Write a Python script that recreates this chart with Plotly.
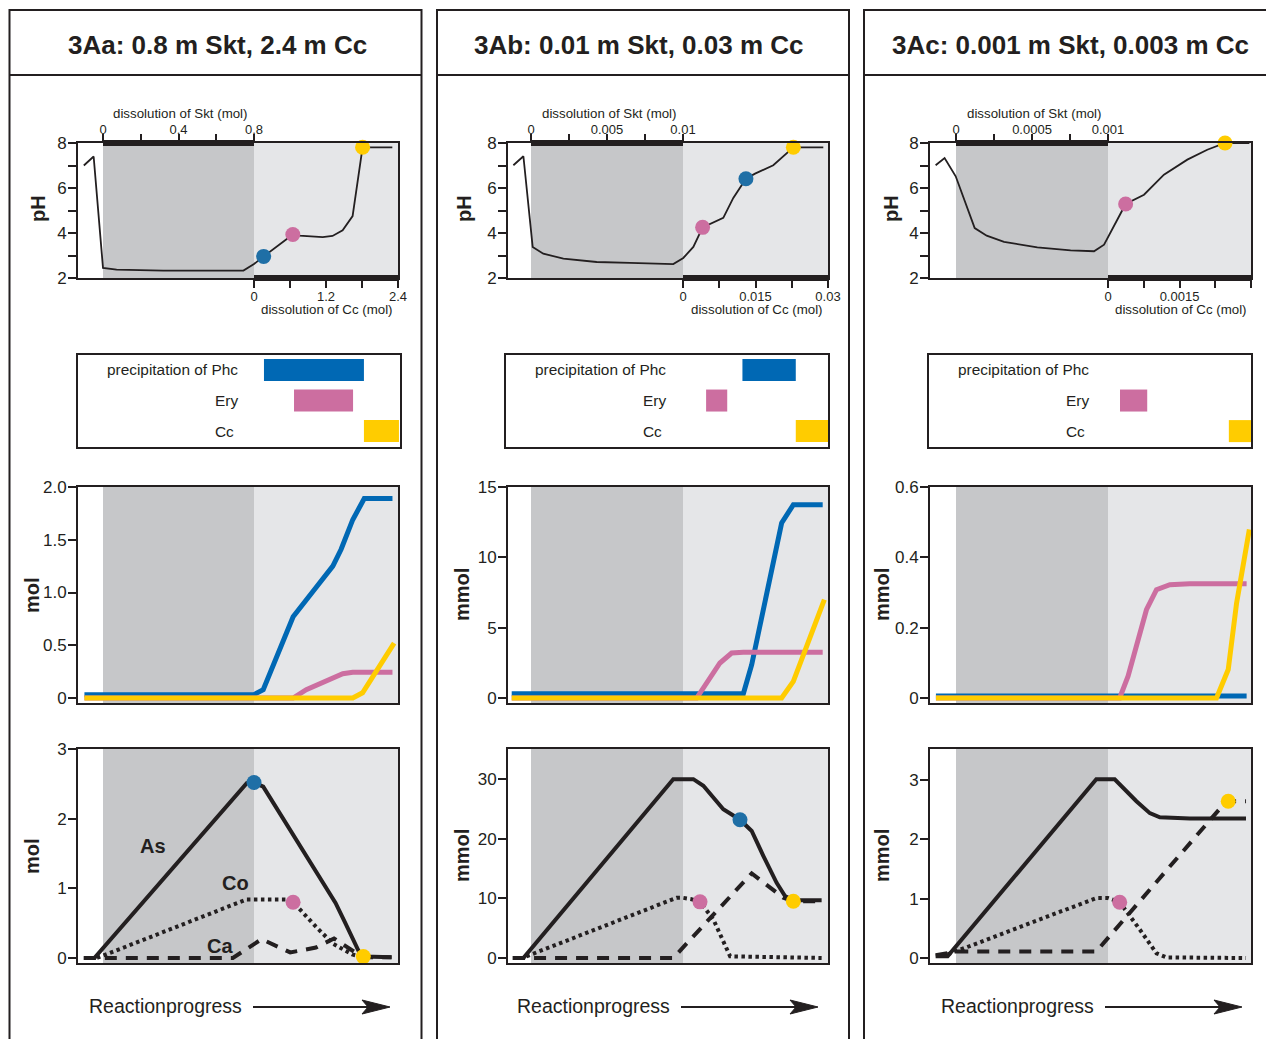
import plotly.graph_objects as go

W, H = 1266, 1039
INK = "#231f20"
FONT = "Liberation Sans, Arial, sans-serif"
BLUE = "#0068b4"
PINK = "#cc6ea0"
YELLOW = "#ffcc00"
MARK_BLUE = "#1f6fa6"
DARK_GRAY = "#c6c7c9"
LIGHT_GRAY = "#e5e6e8"

# ---------------- text / tick labels ----------------
titles = ["3Aa: 0.8 m Skt, 2.4 m Cc", "3Ab: 0.01 m Skt, 0.03 m Cc", "3Ac: 0.001 m Skt, 0.003 m Cc"]
skt_ticktext_a = ["0", "", "0.4", "", "0.8"]
skt_ticktext_b = ["0", "", "0.005", "", "0.01"]
skt_ticktext_c = ["0", "", "0.0005", "", "0.001"]
cc_ticktext_a = ["0", "", "1.2", "", "2.4"]
cc_ticktext_b = ["0", "", "0.015", "", "0.03"]
cc_ticktext_c = ["0", "", "0.0015", "", "0.003"]
precip_labels = ["precipitation of Phc", "Ery", "Cc"]
unit_a, unit_b, unit_c = "mol", "mmol", "mmol"

# x = reaction progress: 0..1 Skt dissolution stage, 1..end Cc dissolution stage
# ---------------- pH curves ----------------
ph_x_a = [-0.127, -0.062, 0.0, 0.09, 0.4, 0.93, 1.0, 1.064, 1.257, 1.30, 1.455, 1.52, 1.587, 1.653, 1.719, 1.916]
ph_y_a = [7.0, 7.4, 2.45, 2.37, 2.33, 2.33, 2.62, 2.96, 3.93, 3.88, 3.82, 3.87, 4.12, 4.75, 7.81, 7.81]
ph_mx_a = [1.064, 1.257, 1.719]
ph_my_a = [2.96, 3.93, 7.81]
ph_mc_a = [MARK_BLUE, PINK, YELLOW]

ph_x_b = [-0.116, -0.05, 0.011, 0.081, 0.213, 0.432, 0.651, 0.936, 1.002, 1.068, 1.129, 1.265, 1.331, 1.414, 1.474, 1.594, 1.726, 1.923]
ph_y_b = [7.01, 7.41, 3.38, 3.08, 2.86, 2.71, 2.67, 2.62, 2.89, 3.38, 4.25, 4.67, 5.56, 6.41, 6.64, 7.01, 7.81, 7.81]
ph_mx_b = [1.129, 1.414, 1.726]
ph_my_b = [4.25, 6.41, 7.81]
ph_mc_b = [PINK, MARK_BLUE, YELLOW]

ph_x_c = [-0.134, -0.075, -0.002, 0.123, 0.202, 0.316, 0.535, 0.754, 0.908, 0.974, 1.061, 1.116, 1.237, 1.368, 1.522, 1.653, 1.77, 1.93]
ph_y_c = [7.01, 7.33, 6.52, 4.22, 3.88, 3.61, 3.36, 3.23, 3.19, 3.48, 4.59, 5.29, 5.70, 6.59, 7.26, 7.70, 8.0, 8.0]
ph_mx_c = [1.116, 1.77]
ph_my_c = [5.29, 8.0]
ph_mc_c = [PINK, YELLOW]

# ---------------- precipitation ranges (start, end) ----------------
prec_start_a = [1.066, 1.265, 1.728]
prec_end_a = [1.728, 1.656, 1.96]
prec_start_b = [1.391, 1.152, 1.742]
prec_end_b = [1.742, 1.291, 1.96]
prec_start_c = [None, 1.079, 1.795]
prec_end_c = [None, 1.258, 1.96]

# ---------------- precipitated amounts ----------------
pa_phc_x = [-0.123, 0.996, 1.061, 1.149, 1.237, 1.259, 1.39, 1.522, 1.577, 1.654, 1.73, 1.917]
pa_phc_y = [0.03, 0.03, 0.08, 0.40, 0.71, 0.77, 1.01, 1.25, 1.41, 1.69, 1.89, 1.89]
pa_ery_x = [-0.123, 1.259, 1.346, 1.522, 1.588, 1.654, 1.917]
pa_ery_y = [0, 0, 0.08, 0.19, 0.23, 0.245, 0.245]
pa_cc_x = [-0.123, 1.654, 1.719, 1.928]
pa_cc_y = [0, 0, 0.05, 0.52]

pb_phc_x = [-0.127, 1.397, 1.452, 1.529, 1.594, 1.649, 1.726, 1.919]
pb_phc_y = [0.3, 0.3, 2.37, 6.28, 9.83, 12.44, 13.74, 13.74]
pb_ery_x = [-0.127, 1.09, 1.243, 1.32, 1.397, 1.919]
pb_ery_y = [0, 0, 2.49, 3.2, 3.25, 3.25]
pb_cc_x = [-0.127, 1.649, 1.726, 1.93]
pb_cc_y = [0, 0, 1.18, 6.99]

pc_phc_x = [-0.132, 1.912]
pc_phc_y = [0.006, 0.006]
pc_ery_x = [-0.132, 1.077, 1.132, 1.253, 1.319, 1.407, 1.538, 1.912]
pc_ery_y = [0, 0, 0.062, 0.251, 0.308, 0.322, 0.325, 0.325]
pc_cc_x = [-0.132, 1.714, 1.791, 1.846, 1.93]
pc_cc_y = [0, 0, 0.081, 0.27, 0.479]

# ---------------- dissolved As / Co / Ca ----------------
aa_as_x = [-0.127, -0.057, 0.952, 1.0, 1.061, 1.237, 1.412, 1.54, 1.605, 1.693, 1.73, 1.912]
aa_as_y = [0, 0, 2.51, 2.52, 2.46, 1.84, 1.22, 0.79, 0.50, 0.10, 0.02, 0.01]
aa_co_x = [-0.04, 0.95, 1.22, 1.26, 1.41, 1.52, 1.65, 1.72]
aa_co_y = [0, 0.84, 0.84, 0.80, 0.45, 0.21, 0.05, 0.01]
aa_ca_x = [-0.127, 0.86, 1.05, 1.24, 1.41, 1.53, 1.72, 1.91]
aa_ca_y = [0, 0, 0.27, 0.08, 0.15, 0.28, 0.01, 0.01]
aa_mx = [1.0, 1.259, 1.724]
aa_my = [2.52, 0.80, 0.02]
aa_mc = [MARK_BLUE, PINK, YELLOW]

ab_as_x = [-0.121, -0.05, 0.936, 1.068, 1.134, 1.265, 1.375, 1.452, 1.529, 1.616, 1.671, 1.726, 1.912]
ab_as_y = [0, 0, 30, 30, 28.9, 24.96, 23.2, 21.3, 17.1, 12.6, 10.4, 9.7, 9.7]
ab_co_x = [-0.03, 0.958, 1.0, 1.05, 1.112, 1.2, 1.31, 1.912]
ab_co_y = [0.28, 10.1, 10.1, 9.9, 9.42, 6.45, 0.28, 0.0]
ab_ca_x = [-0.118, 0.936, 1.452, 1.66, 1.726, 1.912]
ab_ca_y = [0, 0, 14.2, 10.1, 9.5, 9.5]
ab_mx = [1.112, 1.375, 1.726]
ab_my = [9.42, 23.2, 9.53]
ab_mc = [PINK, MARK_BLUE, YELLOW]

ac_as_x = [-0.134, -0.055, 0.923, 1.044, 1.187, 1.275, 1.341, 1.538, 1.908]
ac_as_y = [0.03, 0.03, 3.01, 3.01, 2.64, 2.44, 2.37, 2.35, 2.35]
ac_co_x = [-0.055, 0.923, 1.0, 1.077, 1.209, 1.319, 1.385, 1.908]
ac_co_y = [0.06, 1.01, 1.01, 0.94, 0.48, 0.08, 0.01, 0.0]
ac_ca_x = [-0.134, 0.0, 0.923, 1.67, 1.758, 1.791, 1.908]
ac_ca_y = [0.045, 0.11, 0.11, 2.33, 2.58, 2.64, 2.64]
ac_mx = [1.077, 1.791]
ac_my = [0.94, 2.64]
ac_mc = [PINK, YELLOW]

# axis scales
pre_range_a, pre_ticks_a, pre_text_a = [-0.047, 2.0], [0, 0.5, 1.0, 1.5, 2.0], ["0", "0.5", "1.0", "1.5", "2.0"]
pre_range_b, pre_ticks_b, pre_text_b = [-0.355, 15], [0, 5, 10, 15], ["0", "5", "10", "15"]
pre_range_c, pre_ticks_c, pre_text_c = [-0.0142, 0.6], [0, 0.2, 0.4, 0.6], ["0", "0.2", "0.4", "0.6"]
aq_range_a, aq_ticks_a = [-0.072, 3.0], [0, 1, 2, 3]
aq_range_b, aq_ticks_b = [-0.84, 35.06], [0, 10, 20, 30]
aq_range_c, aq_ticks_c = [-0.084, 3.52], [0, 1, 2, 3]

# ---------------- assemble per column ----------------
columns = [
    dict(title=titles[0], skt=skt_ticktext_a, cc=cc_ticktext_a, unit=unit_a,
         ph=(ph_x_a, ph_y_a, ph_mx_a, ph_my_a, ph_mc_a),
         prec=(prec_start_a, prec_end_a),
         pre=[(pa_phc_x, pa_phc_y, BLUE), (pa_ery_x, pa_ery_y, PINK), (pa_cc_x, pa_cc_y, YELLOW)],
         pre_axis=(pre_range_a, pre_ticks_a, pre_text_a),
         aq=(aa_as_x, aa_as_y, aa_co_x, aa_co_y, aa_ca_x, aa_ca_y, aa_mx, aa_my, aa_mc),
         aq_axis=(aq_range_a, aq_ticks_a),
         geo=dict(L=78, R=398, D0=103, D1=254, LL=78, LR=400, F0=9.5, F1=421.5,
                  phx=38, unitx=32, tx=217, rx=165, a0=253, a1=390)),
    dict(title=titles[1], skt=skt_ticktext_b, cc=cc_ticktext_b, unit=unit_b,
         ph=(ph_x_b, ph_y_b, ph_mx_b, ph_my_b, ph_mc_b),
         prec=(prec_start_b, prec_end_b),
         pre=[(pb_phc_x, pb_phc_y, BLUE), (pb_ery_x, pb_ery_y, PINK), (pb_cc_x, pb_cc_y, YELLOW)],
         pre_axis=(pre_range_b, pre_ticks_b, pre_text_b),
         aq=(ab_as_x, ab_as_y, ab_co_x, ab_co_y, ab_ca_x, ab_ca_y, ab_mx, ab_my, ab_mc),
         aq_axis=(aq_range_b, aq_ticks_b),
         geo=dict(L=508, R=828, D0=531, D1=683, LL=506, LR=828, F0=437, F1=849,
                  phx=464, unitx=462, tx=638, rx=593, a0=681, a1=818)),
    dict(title=titles[2], skt=skt_ticktext_c, cc=cc_ticktext_c, unit=unit_c,
         ph=(ph_x_c, ph_y_c, ph_mx_c, ph_my_c, ph_mc_c),
         prec=(prec_start_c, prec_end_c),
         pre=[(pc_phc_x, pc_phc_y, BLUE), (pc_ery_x, pc_ery_y, PINK), (pc_cc_x, pc_cc_y, YELLOW)],
         pre_axis=(pre_range_c, pre_ticks_c, pre_text_c),
         aq=(ac_as_x, ac_as_y, ac_co_x, ac_co_y, ac_ca_x, ac_ca_y, ac_mx, ac_my, ac_mc),
         aq_axis=(aq_range_c, aq_ticks_c),
         geo=dict(L=930, R=1251, D0=956, D1=1108, LL=929, LR=1251, F0=864, F1=1290,
                  phx=891, unitx=882, tx=1070, rx=1017, a0=1105, a1=1242)),
]

ROWS = {"ph": (143, 278), "leg": (355, 447), "pre": (487, 703), "aq": (749, 963)}


def pxx(x):
    return x / W


def pyy(y):
    return 1 - y / H


def axname(n, k):
    return f"{k}axis" if n == 1 else f"{k}axis{n}"


def ref(n, k):
    return k if n == 1 else f"{k}{n}"


fig = go.Figure()
layout = dict(template="none", width=W, height=H, autosize=False,
              margin=dict(l=0, r=0, t=0, b=0, pad=0, autoexpand=False),
              paper_bgcolor="white", plot_bgcolor="white", showlegend=False,
              font=dict(family=FONT, color=INK))
shapes, annos = [], []

base_axis = dict(showline=True, mirror=True, linecolor=INK, linewidth=2, showgrid=False,
                 zeroline=False, fixedrange=True, automargin=False)
y_ticks = dict(ticks="outside", ticklen=8, tickwidth=2, tickcolor=INK, tickfont=dict(size=17),
               ticklabelstandoff=-2)


def center_text(text, x, y, size, angle=0, **kw):
    d = dict(text=text, xref="paper", yref="paper", x=pxx(x), y=pyy(y), showarrow=False,
             font=dict(size=size), xanchor="center", yanchor="middle", textangle=angle)
    d.update(kw)
    return d


for c, col in enumerate(columns):
    g = col["geo"]
    span = g["D1"] - g["D0"]
    xr = [(g["L"] - g["D0"]) / span, (g["R"] - g["D0"]) / span]
    xl = [(g["LL"] - g["D0"]) / span, (g["LR"] - g["D0"]) / span]
    n_ph, n_leg, n_pre, n_aq = c * 4 + 1, c * 4 + 2, c * 4 + 3, c * 4 + 4
    n_top = 13 + c

    def ydom(key):
        a, b = ROWS[key]
        return [pyy(b), pyy(a)]

    # --- pH panel ---
    cc_vals = [1 + k * (xr[1] - 1) / 4 for k in range(5)]
    layout[axname(n_ph, "x")] = dict(base_axis, domain=[pxx(g["L"]), pxx(g["R"])], range=xr,
                                     anchor=ref(n_ph, "y"), ticks="outside", ticklen=8, tickwidth=2,
                                     tickcolor=INK, tickvals=cc_vals, ticktext=col["cc"],
                                     tickfont=dict(size=13), ticklabelstandoff=-3)
    layout[axname(n_top, "x")] = dict(overlaying=ref(n_ph, "x"), side="top", anchor=ref(n_ph, "y"),
                                      range=xr, showline=False, showgrid=False, zeroline=False,
                                      ticks="outside", ticklen=8, tickwidth=2, tickcolor=INK,
                                      tickvals=[0, 0.25, 0.5, 0.75, 1], ticktext=col["skt"],
                                      tickfont=dict(size=13), fixedrange=True, automargin=False,
                                      ticklabelstandoff=-5)
    layout[axname(n_ph, "y")] = dict(base_axis, **y_ticks, domain=ydom("ph"), range=[2, 8],
                                     anchor=ref(n_ph, "x"), tickvals=[2, 3, 4, 5, 6, 7, 8],
                                     ticktext=["2", "", "4", "", "6", "", "8"])
    px_, py_, mx, my, mc = col["ph"]
    fig.add_trace(go.Scatter(x=[None], y=[None], xaxis=ref(n_top, "x"), yaxis=ref(n_ph, "y"),
                             hoverinfo="skip"))
    fig.add_trace(go.Scatter(x=px_, y=py_, mode="lines", line=dict(color=INK, width=1.8),
                             xaxis=ref(n_ph, "x"), yaxis=ref(n_ph, "y")))
    fig.add_trace(go.Scatter(x=mx, y=my, mode="markers", marker=dict(size=15, color=mc, line=dict(width=0)),
                             cliponaxis=False, xaxis=ref(n_ph, "x"), yaxis=ref(n_ph, "y")))
    shapes.append(dict(type="line", xref=ref(n_ph, "x"), yref=ref(n_ph, "y") + " domain",
                       x0=0, x1=1, y0=1, y1=1, line=dict(color=INK, width=6)))
    shapes.append(dict(type="line", xref=ref(n_ph, "x"), yref=ref(n_ph, "y") + " domain",
                       x0=1, x1=xr[1], y0=0, y1=0, line=dict(color=INK, width=6)))
    annos.append(center_text("dissolution of Skt (mol)", (g["D0"] + g["D1"]) / 2 + 2, 113, 13.3))
    annos.append(center_text("dissolution of Cc (mol)", (g["D1"] + g["R"]) / 2 + 1, 309, 13.3))
    annos.append(center_text("<b>pH</b>", g["phx"], 209, 20, angle=-90))

    # --- precipitation range box ---
    layout[axname(n_leg, "x")] = dict(base_axis, domain=[pxx(g["LL"]), pxx(g["LR"])], range=xl,
                                      anchor=ref(n_leg, "y"), ticks="", showticklabels=False)
    layout[axname(n_leg, "y")] = dict(base_axis, domain=ydom("leg"), range=[2.52, -0.49],
                                      anchor=ref(n_leg, "x"), ticks="", showticklabels=False)
    starts, ends = col["prec"]
    lengths = [None if s is None else e - s for s, e in zip(starts, ends)]
    fig.add_trace(go.Bar(orientation="h", y=[0, 1, 2], x=lengths, base=starts, width=0.72,
                         marker=dict(color=[BLUE, PINK, YELLOW], line=dict(width=0)),
                         xaxis=ref(n_leg, "x"), yaxis=ref(n_leg, "y")))
    annos.append(dict(text=precip_labels[0], xref="paper", yref=ref(n_leg, "y"),
                      x=pxx(g["LL"] + 162), y=0, xanchor="right", yanchor="middle", showarrow=False,
                      font=dict(size=15.4)))
    for row in (1, 2):
        annos.append(dict(text=precip_labels[row], xref="paper", yref=ref(n_leg, "y"),
                          x=pxx(g["LL"] + 135), y=row, xanchor="left", yanchor="middle", showarrow=False,
                          font=dict(size=15.4)))

    # --- precipitated amount panel ---
    rng, tv, tt = col["pre_axis"]
    layout[axname(n_pre, "x")] = dict(base_axis, domain=[pxx(g["L"]), pxx(g["R"])], range=xr,
                                      anchor=ref(n_pre, "y"), ticks="", showticklabels=False)
    layout[axname(n_pre, "y")] = dict(base_axis, **y_ticks, domain=ydom("pre"), range=rng,
                                      anchor=ref(n_pre, "x"), tickvals=tv, ticktext=tt)
    for sx, sy, color in col["pre"]:
        fig.add_trace(go.Scatter(x=sx, y=sy, mode="lines", line=dict(color=color, width=5),
                                 xaxis=ref(n_pre, "x"), yaxis=ref(n_pre, "y")))
    annos.append(center_text(f"<b>{col['unit']}</b>", g["unitx"], 595, 20, angle=-90))

    # --- dissolved species panel ---
    rng, tv = col["aq_axis"]
    layout[axname(n_aq, "x")] = dict(base_axis, domain=[pxx(g["L"]), pxx(g["R"])], range=xr,
                                     anchor=ref(n_aq, "y"), ticks="", showticklabels=False)
    layout[axname(n_aq, "y")] = dict(base_axis, **y_ticks, domain=ydom("aq"), range=rng,
                                     anchor=ref(n_aq, "x"), tickvals=tv, ticktext=[str(v) for v in tv])
    asx, asy, cox, coy, cax, cay, mx, my, mc = col["aq"]
    fig.add_trace(go.Scatter(x=cax, y=cay, mode="lines", line=dict(color=INK, width=4, dash="12px,9px"),
                             xaxis=ref(n_aq, "x"), yaxis=ref(n_aq, "y")))
    fig.add_trace(go.Scatter(x=cox, y=coy, mode="lines", line=dict(color=INK, width=4, dash="3.5px,3.5px"),
                             xaxis=ref(n_aq, "x"), yaxis=ref(n_aq, "y")))
    fig.add_trace(go.Scatter(x=asx, y=asy, mode="lines", line=dict(color=INK, width=4),
                             xaxis=ref(n_aq, "x"), yaxis=ref(n_aq, "y")))
    fig.add_trace(go.Scatter(x=mx, y=my, mode="markers", marker=dict(size=15, color=mc, line=dict(width=0)),
                             cliponaxis=False, xaxis=ref(n_aq, "x"), yaxis=ref(n_aq, "y")))
    annos.append(center_text(f"<b>{col['unit']}</b>", g["unitx"], 856, 20, angle=-90))

    # gray stage backgrounds
    for n in (n_ph, n_pre, n_aq):
        shapes.append(dict(type="rect", xref=ref(n, "x"), yref=ref(n, "y") + " domain",
                           x0=0, x1=1, y0=0, y1=1, fillcolor=DARK_GRAY, line=dict(width=0), layer="below"))
        shapes.append(dict(type="rect", xref=ref(n, "x"), yref=ref(n, "y") + " domain",
                           x0=1, x1=xr[1], y0=0, y1=1, fillcolor=LIGHT_GRAY, line=dict(width=0), layer="below"))

    # column frame and title
    shapes.append(dict(type="rect", xref="paper", yref="paper", x0=pxx(g["F0"]), x1=pxx(g["F1"]),
                       y0=pyy(1060), y1=pyy(10), line=dict(color=INK, width=2), layer="above"))
    shapes.append(dict(type="line", xref="paper", yref="paper", x0=pxx(g["F0"]), x1=pxx(g["F1"]),
                       y0=pyy(75), y1=pyy(75), line=dict(color=INK, width=2)))
    annos.append(center_text(f"<b>{col['title']}</b>", g["tx"], 45, 26))

    # reaction progress label and arrow
    annos.append(center_text("Reactionprogress", g["rx"], 1006, 19.5))
    ya = 1007
    shapes.append(dict(type="line", xref="paper", yref="paper", x0=pxx(g["a0"]), x1=pxx(g["a1"] - 20),
                       y0=pyy(ya), y1=pyy(ya), line=dict(color=INK, width=2)))
    h = g["a1"]
    path = (f"M {pxx(h)},{pyy(ya)} L {pxx(h - 28)},{pyy(ya - 7)} L {pxx(h - 22)},{pyy(ya)} "
            f"L {pxx(h - 28)},{pyy(ya + 7)} Z")
    shapes.append(dict(type="path", xref="paper", yref="paper", path=path, fillcolor=INK,
                       line=dict(color=INK, width=1)))

# species labels in the first column
for txt, x, y in (("As", 153, 846), ("Co", 235, 883), ("Ca", 220, 946)):
    annos.append(center_text(f"<b>{txt}</b>", x, y, 20))

layout["shapes"] = shapes
layout["annotations"] = annos
fig.update_layout(**layout)
fig.update_traces(hoverinfo="skip")
fig.write_html("out.html")
